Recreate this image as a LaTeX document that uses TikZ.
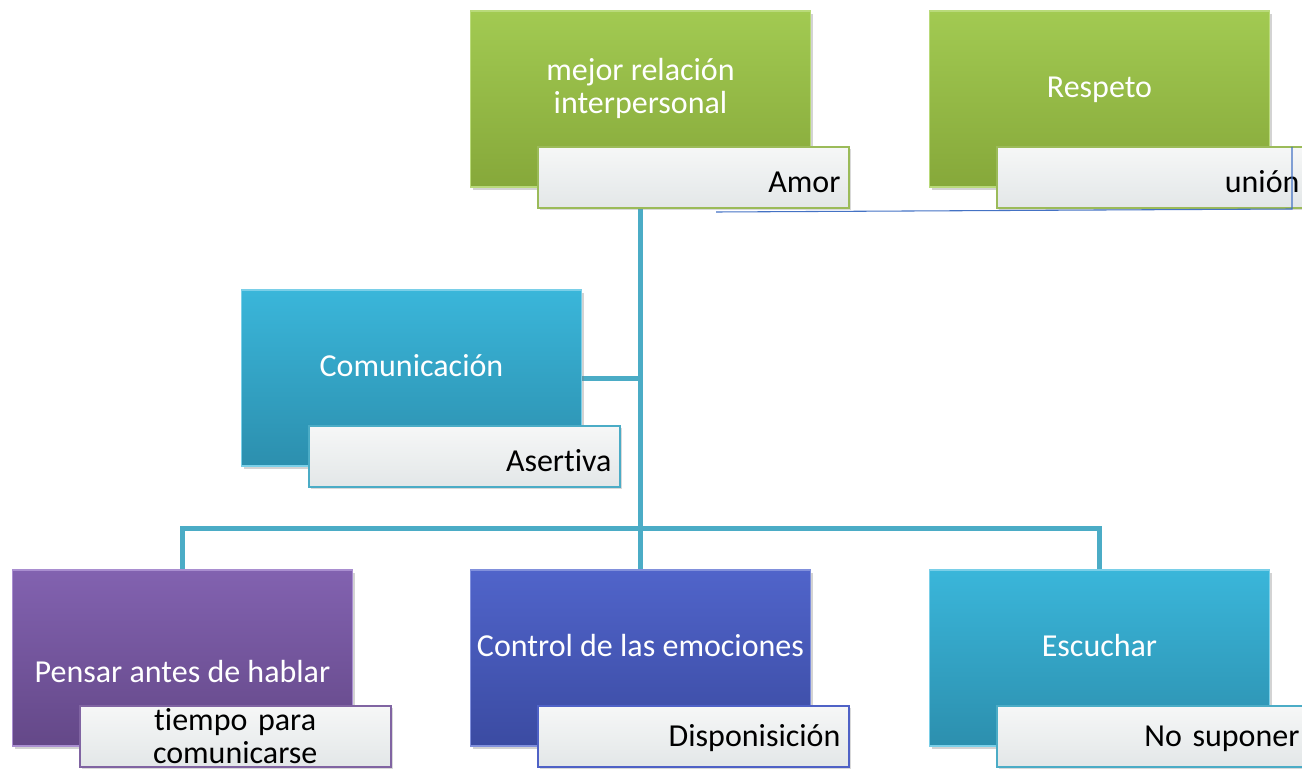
\documentclass[tikz,border=0pt]{standalone}
\usepackage{fontspec}
\setmainfont{Carlito}[Ligatures=NoCommon]
\usetikzlibrary{positioning,shadows,backgrounds}

\definecolor{greentop}{HTML}{A2CA52}
\definecolor{greenbot}{HTML}{86A83A}
\definecolor{greenedge}{HTML}{B9DA7A}
\definecolor{greenline}{HTML}{9BBB59}
\definecolor{tealtop}{HTML}{3AB6DA}
\definecolor{tealbot}{HTML}{2C8FAE}
\definecolor{tealedge}{HTML}{7ACFE8}
\definecolor{tealline}{HTML}{4BACC6}
\definecolor{purpletop}{HTML}{8262B0}
\definecolor{purplebot}{HTML}{644888}
\definecolor{purpleedge}{HTML}{A98ED0}
\definecolor{purpleline}{HTML}{8064A2}
\definecolor{bluetop}{HTML}{5064CA}
\definecolor{bluebot}{HTML}{3B4BA2}
\definecolor{blueedge}{HTML}{8190DC}
\definecolor{blueline}{HTML}{4F62C6}
\definecolor{subtop}{HTML}{F6F7F7}
\definecolor{subbot}{HTML}{E3E7E8}
\definecolor{strayblue}{HTML}{4472C4}

\tikzset{
  mainbox/.style={rectangle, minimum width=255pt, minimum height=132pt,
    top color=#1top, bottom color=#1bot, draw=#1edge, line width=1pt,
    drop shadow={opacity=.35, shadow xshift=1.5pt, shadow yshift=-2pt}},
  boxtext/.style={text=white, align=center, font=\fontsize{24}{25}\selectfont},
  subbox/.style={rectangle, anchor=south west, minimum width=233pt,
    minimum height=45.75pt, text width=221pt, inner xsep=6pt, inner ysep=0pt,
    align=right, top color=subtop, bottom color=subbot, draw=#1line,
    line width=1.5pt, font=\fontsize{24}{25}\selectfont,
    drop shadow={opacity=.3, shadow xshift=1.5pt, shadow yshift=-2pt}},
  lowtext/.style={text height=34pt, text depth=10.8pt},
  midtext/.style={text height=30pt, text depth=14.6pt},
  conn/.style={draw=tealline, line width=3.75pt},
  stray/.style={draw=strayblue, line width=.8pt}
}

\begin{document}
\begin{tikzpicture}[x=0.75pt,y=-0.75pt]
  \useasboundingbox (0,0) rectangle (1302,770);
  \clip (0,0) rectangle (1302,770);

  \node[mainbox=green, label={[boxtext, yshift=8pt]center:mejor relación\\interpersonal}]
        (mejor) at (640.5,99) {};
  \node[mainbox=green, label={[boxtext, yshift=7pt]center:Respeto}]
        (respeto) at (1099.5,99) {};
  \node[mainbox=teal, label={[boxtext, yshift=9pt]center:Comunicación}]
        (com) at (411.5,378) {};
  \node[mainbox=purple, label={[boxtext, yshift=-10.5pt]center:Pensar antes de hablar}]
        (pensar) at (182.5,658) {};
  \node[mainbox=blue, label={[boxtext, yshift=9.5pt]center:Control de las emociones}]
        (control) at (640.5,658) {};
  \node[mainbox=teal, label={[boxtext, yshift=9.5pt]center:Escuchar}]
        (escuchar) at (1099.5,658) {};

  \node[subbox=green, lowtext] (amor) at ([shift={(67,21)}]mejor.south west) {Amor};
  \node[subbox=green, lowtext] (union) at ([shift={(67,21)}]respeto.south west) {unión\hspace*{5pt}};
  \node[subbox=teal, lowtext] (asertiva) at ([shift={(67,21)}]com.south west) {Asertiva};
  \node[subbox=purple, align=center] (tiempo) at ([shift={(67,21)}]pensar.south west)
        {tiempo para\\comunicarse};
  \node[subbox=blue, midtext] (dispo) at ([shift={(67,21)}]control.south west) {Disponisición};
  \node[subbox=teal, midtext] (nosup) at ([shift={(67,21)}]escuchar.south west) {No suponer\hspace*{5pt}};

  \begin{scope}[on background layer]
    \coordinate (bar) at (640.5,528);
    \draw[conn] (mejor.south) -- (control.north);
    \draw[conn] (pensar.north) |- (bar) -| (escuchar.north);
    \draw[conn] (com.east) -- (com.east -| mejor.south);
  \end{scope}

  \coordinate (s1) at (716,212);
  \coordinate (s2) at (1292,209);
  \coordinate (s3) at (1292,147);
  \draw[stray] (s1) -- (s2) -- (s3);
\end{tikzpicture}
\end{document}
